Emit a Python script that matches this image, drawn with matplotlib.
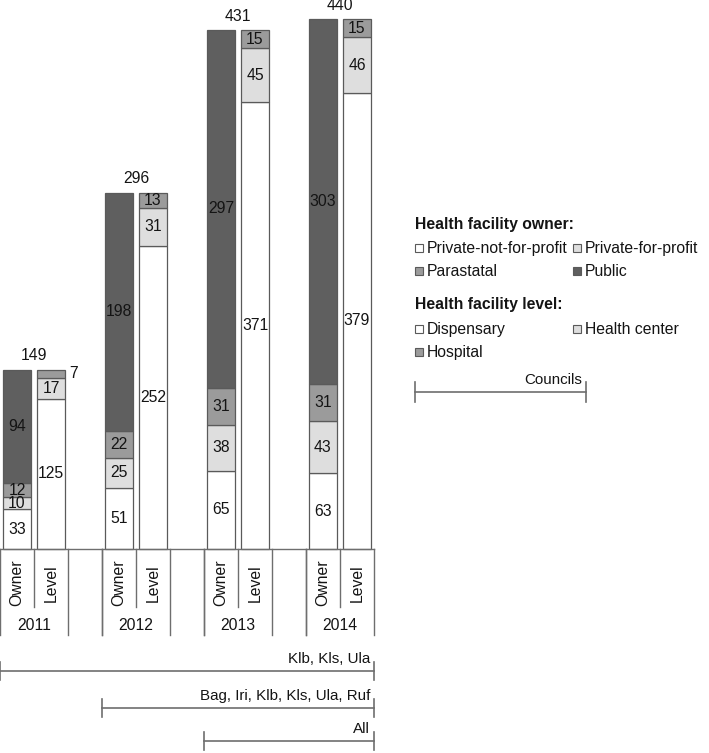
import numpy as np
import matplotlib
import matplotlib.pyplot as plt
from matplotlib.patches import Rectangle

plt.rcParams['font.family'] = ['Liberation Sans', 'DejaVu Sans']
plt.rcParams['font.size'] = 11.3

years = [2011, 2012, 2013, 2014]

owner_labels = ["Private-not-for-profit", "Private-for-profit", "Parastatal", "Public"]
owner_vals = [[33, 51, 65, 63],      # private-not-for-profit
              [10, 25, 38, 43],      # private-for-profit
              [12, 22, 31, 31],      # parastatal
              [94, 198, 297, 303]]   # public

level_labels = ["Dispensary", "Health center", "Hospital"]
level_vals = [[125, 252, 371, 379],  # dispensary
              [17, 31, 45, 46],      # health center
              [7, 13, 15, 15]]       # hospital

councils = ["Klb, Kls, Ula", "Bag, Iri, Klb, Kls, Ula, Ruf", "All"]
council_start = [2011, 2012, 2013]

owner_cols = ['white', '#dedede', '#9b9b9b', '#5f5f5f']
level_cols = ['white', '#dedede', '#9b9b9b']
edge = '#5a5a5a'
line_col = '#6e6e6e'
txt = '#141414'

W, H = 709, 753
fig = plt.figure(figsize=(W / 100, H / 100), dpi=100)

base = 549
top = 19.3
right = 374
ax = fig.add_axes([0, (H - base) / H, right / W, (base - top) / H])
ax.set_xlim(0, 11)
ax.set_ylim(0, 440)
ax.axis('off')

x_owner = np.array([3 * i + 0.5 for i in range(len(years))])
x_level = x_owner + 1
bw = 0.85
px_per_unit = (base - top) / 440


def stack(xs, vals, cols):
    bottom = np.zeros(len(xs))
    for v, c in zip(vals, cols):
        v = np.array(v)
        ax.bar(xs, v, bw, bottom=bottom, color=c, edgecolor=edge, linewidth=0.9, clip_on=False)
        for x, b, h in zip(xs, bottom, v):
            if h < 9:
                ax.text(x + bw / 2 + 0.1, b + h / 2, str(h), ha='left', va='center', color=txt)
            else:
                ax.text(x, b + h / 2, str(h), ha='center', va='center', color=txt)
        bottom = bottom + v
    return bottom


tot = stack(x_owner, owner_vals, owner_cols)
stack(x_level, level_vals, level_cols)
for x, t in zip(x_owner, tot):
    ax.text(x + 0.5, t + 14 / px_per_unit, str(int(t)), ha='center', va='center', color=txt)

# table and council ranges under the bars (y in pixels below the baseline)
ax2 = fig.add_axes([0, 0, right / W, (H - base) / H])
ax2.set_xlim(0, 11)
ax2.set_ylim(H - base, 0)
ax2.axis('off')

ax2.plot([0, 11], [0, 0], color=line_col, lw=1.0, clip_on=False)
for i, y in enumerate(years):
    g = 3 * i
    full = [g, g + 2] + ([g + 3] if i < len(years) - 1 else [])
    for xv in full:
        ax2.plot([xv, xv], [0, 86], color=line_col, lw=1.0, clip_on=False)
    ax2.plot([g + 1, g + 1], [0, 58], color=line_col, lw=1.0, clip_on=False)
    ax2.text(g + 0.5, 34, "Owner", rotation=90, ha='center', va='center', color=txt)
    ax2.text(g + 1.5, 34, "Level", rotation=90, ha='center', va='center', color=txt)
    ax2.text(g + 1, 77, str(y), ha='center', va='center', color=txt)

line_y = [122, 159, 192]
for name, start, ly in zip(councils, council_start, line_y):
    x0 = 3 * (start - years[0])
    ax2.plot([x0, 11], [ly, ly], color=line_col, lw=1.2, clip_on=False)
    ax2.plot([x0, x0], [ly - 9, ly + 9], color=line_col, lw=1.2, clip_on=False)
    ax2.plot([11, 11], [ly - 9, ly + 9], color=line_col, lw=1.2, clip_on=False)
    ax2.text(11 - 0.12, ly - 12, name, ha='right', va='center', color=txt, fontsize=10.9)

# legend drawn in pixel coordinates
lg = fig.add_axes([0, 0, 1, 1])
lg.set_xlim(0, W)
lg.set_ylim(H, 0)
lg.axis('off')


def entries(labels, cols, y0):
    for k, (lab, c) in enumerate(zip(labels, cols)):
        cx = 415 if k % 2 == 0 else 573
        cy = y0 + (k // 2) * 23
        lg.add_patch(Rectangle((cx, cy - 4), 8, 8, facecolor=c, edgecolor=edge, lw=0.8))
        lg.text(cx + 12, cy, lab, ha='left', va='center', color=txt)


lg.text(415, 224, "Health facility owner:", ha='left', va='center', weight='bold', color=txt)
entries(owner_labels, owner_cols, 248)
lg.text(415, 304, "Health facility level:", ha='left', va='center', weight='bold', color=txt)
entries(level_labels, level_cols, 329)

lg.plot([415, 586], [392, 392], color=line_col, lw=1.2)
lg.plot([415, 415], [382, 402], color=line_col, lw=1.2)
lg.plot([586, 586], [382, 402], color=line_col, lw=1.2)
lg.text(582, 380, "Councils", ha='right', va='center', color=txt, fontsize=10.9)

fig.savefig('out.png', dpi=100)
